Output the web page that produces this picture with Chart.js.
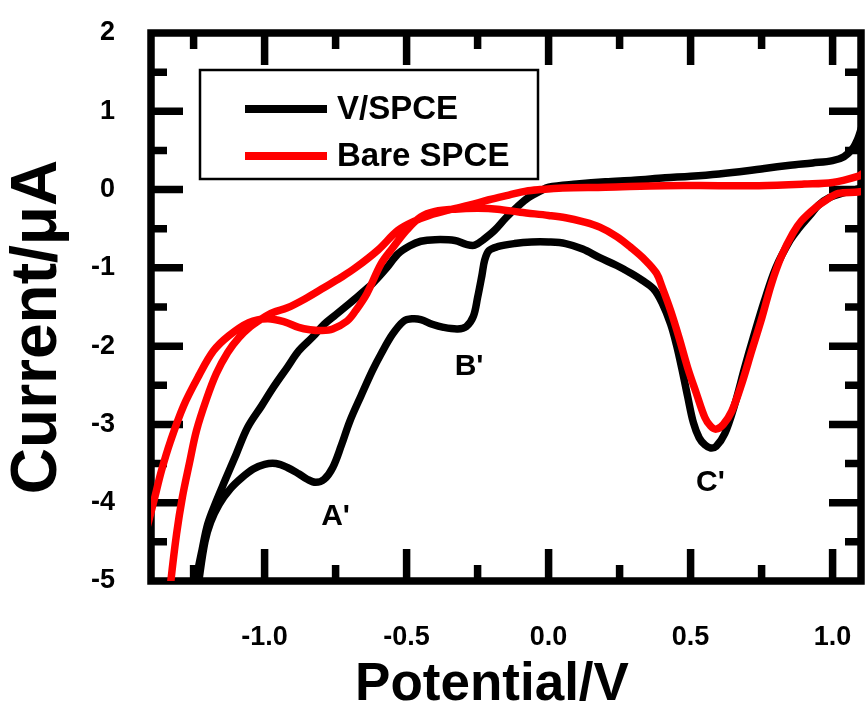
<!DOCTYPE html>
<html><head><meta charset="utf-8">
<script src="https://cdn.jsdelivr.net/npm/chart.js@4.4.1/dist/chart.umd.min.js"></script>
<style>html,body{margin:0;padding:0;background:#fff;}#wrap{width:865px;height:713px;position:relative;}</style>
</head><body><div id="wrap"><canvas id="c" width="865" height="713"></canvas></div>
<script>
const seriesNames = ['V/SPCE', 'Bare SPCE'];
const seriesColors = ['#000000', '#ff0000'];

// V/SPCE loop: anodic branch (left -> right), then cathodic branch (right -> left)
const vspcePotential = [
  -1.26,-1.24,-1.22,-1.20,-1.17,-1.14,-1.10,-1.06,-1.01,-0.97,-0.92,-0.88,-0.83,-0.79,-0.75,-0.72,-0.67,-0.62,-0.57,-0.53,-0.49,-0.45,-0.40,-0.33,-0.29,-0.26,-0.23,-0.19,-0.15,-0.11,-0.07,-0.03,0.00,0.10,0.20,0.30,0.41,0.50,0.60,0.70,0.76,0.85,0.93,1.00,1.04,1.07,1.09,1.12,1.14,1.12,
  1.09,1.04,0.99,0.95,0.92,0.88,0.85,0.80,0.76,0.72,0.69,0.655,0.62,0.59,0.57,0.55,0.53,0.51,0.49,0.47,0.45,0.43,0.40,0.37,0.33,0.29,0.24,0.18,0.12,0.06,0.00,-0.06,-0.12,-0.18,-0.21,-0.225,-0.235,-0.25,-0.265,-0.29,-0.32,-0.37,-0.41,-0.45,-0.48,-0.51,-0.55,-0.59,-0.62,-0.66,-0.70,-0.73,-0.76,-0.79,-0.82,-0.85,-0.88,-0.92,-0.96,-1.00,-1.04,-1.08,-1.12,-1.16,-1.19,-1.21,-1.23,-1.245
];
const vspceCurrent = [
  -5.40,-4.96,-4.60,-4.27,-3.98,-3.72,-3.38,-3.04,-2.76,-2.53,-2.27,-2.06,-1.88,-1.72,-1.60,-1.51,-1.36,-1.20,-1.00,-0.82,-0.72,-0.66,-0.64,-0.65,-0.70,-0.71,-0.64,-0.52,-0.36,-0.22,-0.10,-0.02,0.03,0.07,0.10,0.12,0.15,0.17,0.20,0.24,0.27,0.31,0.34,0.37,0.42,0.52,0.66,0.95,0.50,0.06,
  0.01,-0.04,-0.10,-0.20,-0.33,-0.50,-0.65,-1.00,-1.42,-1.90,-2.28,-2.75,-3.12,-3.28,-3.30,-3.26,-3.17,-2.98,-2.65,-2.30,-1.98,-1.72,-1.45,-1.27,-1.16,-1.07,-0.97,-0.87,-0.76,-0.69,-0.67,-0.67,-0.69,-0.73,-0.78,-0.90,-1.10,-1.38,-1.62,-1.75,-1.78,-1.76,-1.72,-1.66,-1.65,-1.68,-1.85,-2.10,-2.31,-2.63,-2.96,-3.27,-3.55,-3.70,-3.74,-3.70,-3.63,-3.55,-3.50,-3.51,-3.57,-3.68,-3.82,-4.02,-4.25,-4.50,-4.96,-5.40
];

// Bare SPCE loop
const bareSpcePotential = [
  -1.34,-1.33,-1.31,-1.29,-1.265,-1.24,-1.205,-1.17,-1.13,-1.09,-1.05,-1.01,-0.97,-0.92,-0.86,-0.79,-0.73,-0.68,-0.60,-0.53,-0.47,-0.42,-0.35,-0.28,-0.21,-0.14,-0.08,-0.03,0.05,0.20,0.41,0.60,0.74,0.90,1.00,1.09,1.12,1.14,1.12,
  1.09,1.02,0.975,0.94,0.89,0.86,0.82,0.785,0.75,0.715,0.68,0.645,0.615,0.59,0.57,0.55,0.52,0.49,0.46,0.43,0.40,0.38,0.34,0.29,0.24,0.18,0.12,0.06,0.00,-0.10,-0.18,-0.25,-0.33,-0.40,-0.45,-0.50,-0.55,-0.59,-0.64,-0.68,-0.71,-0.76,-0.80,-0.84,-0.88,-0.93,-0.99,-1.056,-1.127,-1.18,-1.232,-1.285,-1.331,-1.363,-1.39,-1.42
];
const bareSpceCurrent = [
  -5.40,-5.00,-4.40,-3.94,-3.50,-3.08,-2.68,-2.35,-2.08,-1.89,-1.75,-1.65,-1.57,-1.51,-1.40,-1.25,-1.12,-1.00,-0.77,-0.52,-0.40,-0.33,-0.26,-0.20,-0.13,-0.07,-0.02,0.00,0.02,0.03,0.05,0.05,0.05,0.07,0.09,0.17,0.22,0.12,0.00,
  -0.03,-0.05,-0.14,-0.23,-0.40,-0.56,-0.85,-1.20,-1.65,-2.06,-2.48,-2.83,-3.00,-3.06,-3.02,-2.91,-2.60,-2.28,-1.90,-1.55,-1.25,-1.07,-0.90,-0.74,-0.60,-0.48,-0.41,-0.36,-0.33,-0.29,-0.25,-0.24,-0.25,-0.28,-0.35,-0.52,-0.75,-0.95,-1.33,-1.55,-1.68,-1.78,-1.80,-1.79,-1.76,-1.69,-1.65,-1.70,-1.87,-2.06,-2.38,-2.76,-3.21,-3.59,-3.98,-4.40
];

const xTickValues = [-1.0, -0.5, 0.0, 0.5, 1.0];
const xTickLabels = ['-1.0', '-0.5', '0.0', '0.5', '1.0'];
const yTickValues = [-5, -4, -3, -2, -1, 0, 1, 2];
const yTickLabels = ['-5', '-4', '-3', '-2', '-1', '0', '1', '2'];
const xRange = [-1.4, 1.1];
const yRange = [-5, 2];
const peakLabels = ["A'", "B'", "C'"];
const peakPotential = [-0.75, -0.28, 0.57];
const peakCurrent = [-4.18, -2.26, -3.75];
const xTitle = 'Potential/V';
const yTitle = 'Current/μA';

const FONT = '"Liberation Sans", Arial, sans-serif';

function toPoints(xs, ys) { return xs.map((x, i) => ({ x: x, y: ys[i] })); }
function noPad(s) { s.paddingLeft = 0; s.paddingRight = 0; s.paddingTop = 0; s.paddingBottom = 0; }

const framePlugin = {
  id: 'frameTicks',
  beforeDatasetsDraw(chart) {
    const ctx = chart.ctx, a = chart.chartArea;
    const xs = chart.scales.x, ys = chart.scales.y;
    ctx.save();
    ctx.strokeStyle = '#000';
    ctx.lineCap = 'butt';
    ctx.lineWidth = 7.5;
    ctx.beginPath();
    ctx.rect(a.left, a.top, a.right - a.left, a.bottom - a.top);
    ctx.stroke();
    const MAJ = 32, MIN = 16;
    for (let v = -1.25; v <= 1.26; v += 0.25) {
      const isMajor = Math.abs(v * 2 - Math.round(v * 2)) < 1e-6;
      const len = isMajor ? MAJ : MIN;
      const px = xs.getPixelForValue(v);
      if (px < a.left + 2 || px > a.right - 2) continue;
      ctx.beginPath();
      ctx.moveTo(px, a.bottom); ctx.lineTo(px, a.bottom - len);
      ctx.moveTo(px, a.top); ctx.lineTo(px, a.top + len);
      ctx.stroke();
    }
    for (let v = -4.5; v <= 1.51; v += 0.5) {
      const isMajor = Math.abs(v - Math.round(v)) < 1e-6;
      const len = isMajor ? MAJ : MIN;
      const py = ys.getPixelForValue(v);
      ctx.beginPath();
      ctx.moveTo(a.left, py); ctx.lineTo(a.left + len, py);
      ctx.moveTo(a.right, py); ctx.lineTo(a.right - len, py);
      ctx.stroke();
    }
    ctx.restore();
  },
  afterDraw(chart) {
    const ctx = chart.ctx;
    const xs = chart.scales.x, ys = chart.scales.y;
    ctx.save();
    ctx.fillStyle = '#000';
    ctx.font = 'bold 30px ' + FONT;
    ctx.textAlign = 'center';
    ctx.textBaseline = 'middle';
    peakLabels.forEach((t, i) => {
      ctx.fillText(t, xs.getPixelForValue(peakPotential[i]), ys.getPixelForValue(peakCurrent[i]));
    });
    const bx = 200, by = 70, bw = 338, bh = 109;
    ctx.fillStyle = '#fff';
    ctx.fillRect(bx, by, bw, bh);
    ctx.lineWidth = 2.5;
    ctx.strokeStyle = '#000';
    ctx.strokeRect(bx, by, bw, bh);
    ctx.font = 'bold 33px ' + FONT;
    ctx.textAlign = 'left';
    chart.data.datasets.slice().sort((p, q) => p.legendIndex - q.legendIndex).forEach((ds, i) => {
      const yy = by + 39 + i * 47;
      ctx.strokeStyle = ds.borderColor;
      ctx.lineWidth = 8;
      ctx.beginPath();
      ctx.moveTo(bx + 45, yy); ctx.lineTo(bx + 127, yy);
      ctx.stroke();
      ctx.fillStyle = '#000';
      ctx.fillText(ds.label, bx + 137, yy + 1);
    });
    ctx.fillStyle = '#000';
    ctx.textAlign = 'center';
    ctx.textBaseline = 'middle';
    ctx.font = 'bold 53px ' + FONT;
    ctx.fillText(xTitle, 492, 685);
    ctx.save();
    ctx.translate(38, 327);
    ctx.rotate(-Math.PI / 2);
    ctx.font = 'bold 64px ' + FONT;
    ctx.fillText(yTitle, 0, 0);
    ctx.restore();
    ctx.restore();
  }
};

new Chart(document.getElementById('c'), {
  type: 'scatter',
  data: {
    datasets: [
      { label: seriesNames[1], legendIndex: 1, data: toPoints(bareSpcePotential, bareSpceCurrent),
        borderColor: seriesColors[1], backgroundColor: seriesColors[1], showLine: true, pointRadius: 0,
        borderWidth: 7.5, tension: 0.35, borderJoinStyle: 'round', borderCapStyle: 'round' },
      { label: seriesNames[0], legendIndex: 0, data: toPoints(vspcePotential, vspceCurrent),
        borderColor: seriesColors[0], backgroundColor: seriesColors[0], showLine: true, pointRadius: 0,
        borderWidth: 7.5, tension: 0.35, borderJoinStyle: 'round', borderCapStyle: 'round' }
    ]
  },
  options: {
    responsive: false,
    devicePixelRatio: 1,
    animation: false,
    layout: { padding: { top: 33, right: 4, left: 0, bottom: 0 } },
    plugins: { legend: { display: false }, tooltip: { enabled: false } },
    scales: {
      x: {
        type: 'linear', min: xRange[0], max: xRange[1],
        afterFit(s) { s.height = 132; noPad(s); },
        afterBuildTicks(s) { s.ticks = xTickValues.map(v => ({ value: v })); },
        grid: { display: false, drawTicks: false },
        border: { display: false },
        ticks: { color: '#000', padding: 40, maxRotation: 0, autoSkip: false,
          font: { family: FONT, size: 27, weight: 'bold' },
          callback: (v) => xTickLabels[xTickValues.indexOf(v)] },
        title: { display: false }
      },
      y: {
        type: 'linear', min: yRange[0], max: yRange[1],
        afterFit(s) { s.width = 151; noPad(s); },
        afterBuildTicks(s) { s.ticks = yTickValues.map(v => ({ value: v })); },
        grid: { display: false, drawTicks: false },
        border: { display: false },
        ticks: { color: '#000', padding: 36, autoSkip: false,
          font: { family: FONT, size: 27, weight: 'bold' },
          callback: (v) => yTickLabels[yTickValues.indexOf(v)] },
        title: { display: false }
      }
    }
  },
  plugins: [framePlugin]
});
</script>
</body></html>
